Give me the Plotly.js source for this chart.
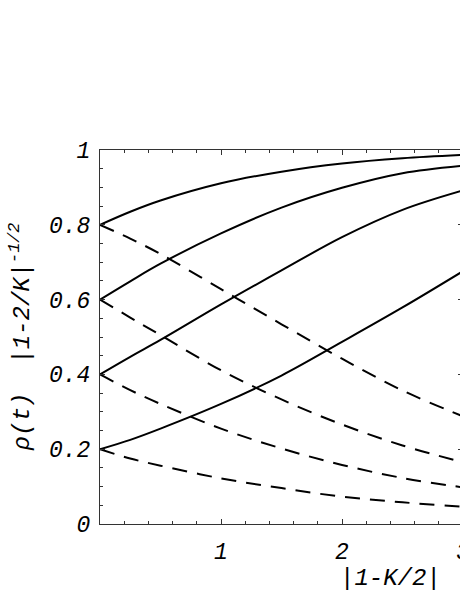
<!DOCTYPE html>
<html>
<head>
<meta charset="utf-8">
<script src="https://cdn.plot.ly/plotly-3.0.1.min.js"></script>
<style>
  html, body { margin: 0; padding: 0; background: #fff; overflow: hidden; }
  #plot { width: 480px; height: 595px; }
</style>
</head>
<body>
<div id="plot"></div>
<script>
// values, x = |1-K/2|
const xs = [0, 0.25, 0.5, 1, 1.5, 2, 2.5, 3];

// solid curves (rising)
const solid08 = [0.8, 0.835, 0.865, 0.911, 0.942, 0.964, 0.978, 0.987];
const solid06 = [0.6, 0.649, 0.696, 0.777, 0.846, 0.899, 0.938, 0.958];
const solid04 = [0.4, 0.447, 0.492, 0.587, 0.678, 0.767, 0.840, 0.892];
const solid02 = [0.2, 0.225, 0.255, 0.321, 0.397, 0.487, 0.579, 0.676];

// dashed curves (falling)
const dash08 = [0.8, 0.763, 0.722, 0.628, 0.534, 0.442, 0.357, 0.288];
const dash06 = [0.6, 0.552, 0.505, 0.411, 0.333, 0.266, 0.210, 0.165];
const dash04 = [0.4, 0.358, 0.321, 0.255, 0.202, 0.158, 0.123, 0.098];
const dash02 = [0.2, 0.175, 0.156, 0.122, 0.096, 0.073, 0.058, 0.046];

const xTickVals = [1, 2, 3];
const xTickText = ['1', '2', '3'];
const yTickVals = [0, 0.2, 0.4, 0.6, 0.8, 1];
const yTickText = ['0', '0.2', '0.4', '0.6', '0.8', '1'];

const monoFont = { family: 'Liberation Mono, DejaVu Sans Mono, monospace', style: 'italic', color: '#000' };

function solidTrace(ys) {
  return { x: xs, y: ys, type: 'scatter', mode: 'lines',
    line: { color: '#000', width: 2, shape: 'spline' }, hoverinfo: 'skip' };
}
function dashTrace(ys) {
  return { x: xs, y: ys, type: 'scatter', mode: 'lines',
    line: { color: '#000', width: 2, shape: 'spline', dash: '15px,10px' }, hoverinfo: 'skip' };
}

const traces = [
  solidTrace(solid08), solidTrace(solid06), solidTrace(solid04), solidTrace(solid02),
  dashTrace(dash08), dashTrace(dash06), dashTrace(dash04), dashTrace(dash02)
];

const layout = {
  width: 480,
  height: 595,
  margin: { l: 100, r: 17, t: 150, b: 71 },
  paper_bgcolor: '#fff',
  plot_bgcolor: '#fff',
  showlegend: false,
  xaxis: {
    range: [0, 3],
    tickvals: xTickVals,
    ticktext: xTickText,
    ticks: 'inside',
    ticklen: 5,
    tickcolor: '#333',
    showline: true,
    linecolor: '#333',
    linewidth: 1,
    mirror: 'ticks',
    showgrid: false,
    zeroline: false,
    ticklabelstandoff: 6,
    tickfont: Object.assign({ size: 23 }, monoFont),
    minor: { dtick: 0.2, ticks: 'inside', ticklen: 3, tickcolor: '#333', showgrid: false }
  },
  yaxis: {
    range: [0, 1],
    tickvals: yTickVals,
    ticktext: yTickText,
    ticks: 'inside',
    ticklen: 5,
    tickcolor: '#333',
    showline: true,
    linecolor: '#333',
    linewidth: 1,
    mirror: 'ticks',
    showgrid: false,
    zeroline: false,
    ticklabelstandoff: 4,
    tickfont: Object.assign({ size: 23 }, monoFont),
    minor: { dtick: 0.05, ticks: 'inside', ticklen: 3, tickcolor: '#333', showgrid: false }
  },
  annotations: [
    {
      text: '|1-K/2|',
      xref: 'x', yref: 'paper',
      x: 2.4, y: -0.145,
      xanchor: 'center', yanchor: 'middle',
      showarrow: false,
      font: Object.assign({ size: 24 }, monoFont)
    },
    {
      text: '\u03c1(t)\u00a0\u00a0|1-2/K|<sup>-1/2</sup>',
      xref: 'paper', yref: 'paper',
      x: -0.22, y: 0.5,
      xanchor: 'center', yanchor: 'middle',
      textangle: -90,
      showarrow: false,
      font: Object.assign({ size: 24 }, monoFont)
    }
  ]
};

Plotly.newPlot('plot', traces, layout, { staticPlot: true, displayModeBar: false });
</script>
</body>
</html>
